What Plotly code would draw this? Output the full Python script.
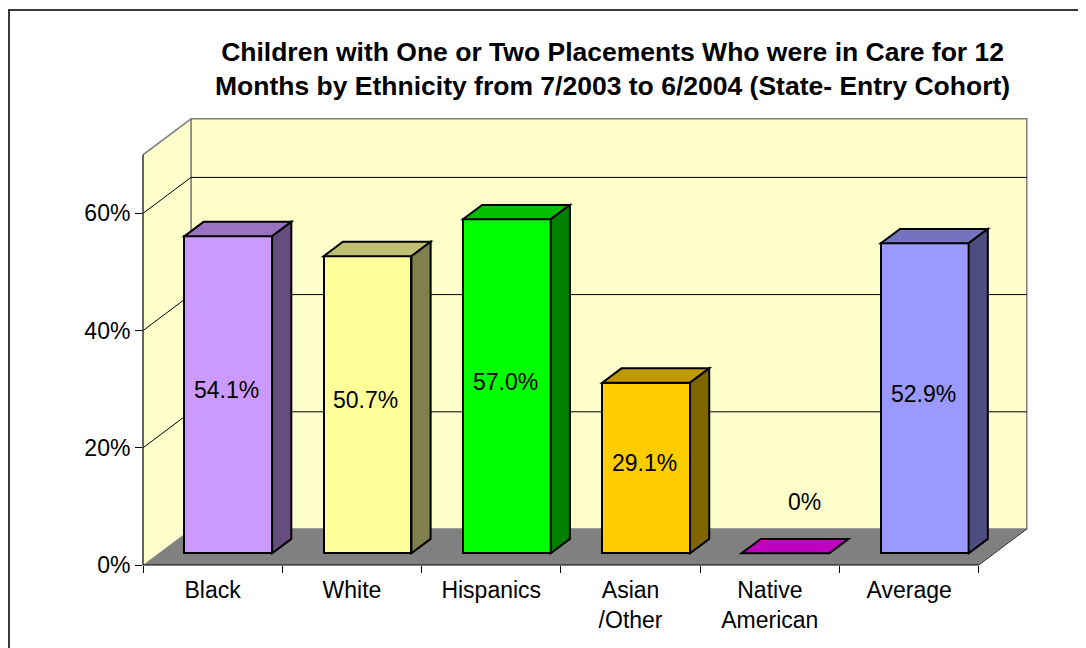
import plotly.graph_objects as go

# ---------------- data ----------------
categories = ["Black", "White", "Hispanics", "Asian /Other", "Native American", "Average"]
tick_labels = ["Black", "White", "Hispanics", "Asian<br>/Other", "Native<br>American", "Average"]
values = [0.541, 0.507, 0.570, 0.291, 0.0, 0.529]
value_labels = ["54.1%", "50.7%", "57.0%", "29.1%", "0%", "52.9%"]
front_colors = ["#CC99FF", "#FFFF99", "#00FF00", "#FFCC00", "#FF00FF", "#9999FF"]
top_colors = ["#9973BF", "#BFBF73", "#00BF00", "#BF9900", "#BF00BF", "#7373BF"]
side_colors = ["#664D80", "#80804D", "#008000", "#806600", "#800080", "#4D4D80"]
y_ticks = [0, 0.2, 0.4, 0.6]
y_max = 0.7
title_text = ("<b>Children with One or Two Placements Who were in Care for 12<br>"
              "Months by Ethnicity from 7/2003 to 6/2004 (State- Entry Cohort)</b>")

# ---------------- geometry / style ----------------
# the page body has an 8px margin, so the figure is drawn 8px smaller and shifted
W, H = 1078, 640
CAT_PX = 139.3        # pixels per category
UNIT_PX = 586.0       # pixels per 100%
ML, MB = 135, 83
PW, PH = 886, 448
MR = W - ML - PW
MT = H - MB - PH
DX = 48 / CAT_PX      # full depth offset (category units)
DY = 36 / UNIT_PX     # full depth offset (value units)
F1, F2 = 0.325, 0.725 # bar front / back depth fractions
BW = 0.63             # bar width
X0 = -0.5
XN = len(categories) - 0.5
x_range = [X0, X0 + PW / CAT_PX]
y_range = [0, PH / UNIT_PX]
WALL = "#FFFFCC"
FLOOR = "#808080"
FONT = "Liberation Sans, Arial, sans-serif"


def px_x(p):
    return (p - ML) / PW


def px_y(p):
    return (MT + PH - p) / PH


fig = go.Figure()

fig.add_trace(go.Bar(
    x=categories, y=values, base=F1 * DY, width=BW, offset=-BW / 2 + F1 * DX,
    marker=dict(color=front_colors, line=dict(color="black", width=2)),
    hoverinfo="skip", showlegend=False,
))

shapes = []
# back wall
shapes.append(dict(type="rect", xref="x", yref="y", layer="below",
                   x0=X0 + DX, x1=XN + DX, y0=DY, y1=y_max + DY,
                   fillcolor=WALL, line=dict(color="#808080", width=1.5)))
# side wall
shapes.append(dict(type="path", xref="x", yref="y", layer="below",
                   path=f"M{X0},0 L{X0+DX},{DY} L{X0+DX},{y_max+DY} L{X0},{y_max} Z",
                   fillcolor=WALL, line=dict(width=0)))
shapes.append(dict(type="line", xref="x", yref="y", layer="below",
                   x0=X0, y0=y_max, x1=X0 + DX, y1=y_max + DY,
                   line=dict(color="#808080", width=1.5)))
shapes.append(dict(type="line", xref="x", yref="y", layer="below",
                   x0=X0 + DX, y0=DY, x1=X0 + DX, y1=y_max + DY,
                   line=dict(color="#808080", width=1.5)))
# gridlines
for v in y_ticks[1:]:
    shapes.append(dict(type="line", xref="x", yref="y", layer="below",
                       x0=X0 + DX, y0=v + DY, x1=XN + DX, y1=v + DY,
                       line=dict(color="black", width=1)))
    shapes.append(dict(type="line", xref="x", yref="y", layer="below",
                       x0=X0, y0=v, x1=X0 + DX, y1=v + DY,
                       line=dict(color="black", width=1)))
# floor
shapes.append(dict(type="path", xref="x", yref="y", layer="below",
                   path=f"M{X0},0 L{XN},0 L{XN+DX},{DY} L{X0+DX},{DY} Z",
                   fillcolor=FLOOR, line=dict(width=0)))
shapes.append(dict(type="line", xref="x", yref="y", layer="below",
                   x0=XN, y0=0, x1=XN + DX, y1=DY,
                   line=dict(color="#333333", width=1)))
shapes.append(dict(type="line", xref="x", yref="paper", layer="above",
                   x0=X0, y0=0, x1=XN, y1=0,
                   line=dict(color="black", width=1.2)))
# front-left axis edge
shapes.append(dict(type="line", xref="paper", yref="y", layer="above",
                   x0=0, y0=0, x1=0, y1=y_max,
                   line=dict(color="black", width=1.2)))

# 3D bar faces
dxd = (F2 - F1) * DX
dyd = (F2 - F1) * DY
for i, v in enumerate(values):
    xl = i - BW / 2 + F1 * DX
    xr = xl + BW
    b = F1 * DY
    t = v + b
    shapes.append(dict(type="path", xref="x", yref="y", layer="above",
                       path=f"M{xl},{t} L{xr},{t} L{xr+dxd},{t+dyd} L{xl+dxd},{t+dyd} Z",
                       fillcolor=top_colors[i], line=dict(color="black", width=2)))
    if v > 0:
        shapes.append(dict(type="path", xref="x", yref="y", layer="above",
                           path=f"M{xr},{b} L{xr},{t} L{xr+dxd},{t+dyd} L{xr+dxd},{b+dyd} Z",
                           fillcolor=side_colors[i], line=dict(color="black", width=2)))

# outer chart border (right and bottom sides fall outside the figure)
shapes.append(dict(type="rect", xref="paper", yref="paper", layer="above",
                   x0=px_x(1), x1=px_x(W + 10), y0=px_y(H + 10), y1=px_y(2),
                   line=dict(color="#3a3a3a", width=2), fillcolor="rgba(0,0,0,0)"))

annotations = []
for i, v in enumerate(values):
    if v > 0:
        ax_, ay_ = i + 0.1, v / 2 + 0.028
    else:
        ax_, ay_ = i + 0.246, 0.107
    annotations.append(dict(x=ax_, y=ay_, xref="x", yref="y", text=value_labels[i],
                            showarrow=False, font=dict(size=23, color="black", family=FONT),
                            xanchor="center", yanchor="middle"))
annotations.append(dict(x=px_x(604), y=px_y(61), xref="paper", yref="paper",
                        text=title_text, showarrow=False, align="center",
                        font=dict(size=26.5, color="black", family=FONT),
                        xanchor="center", yanchor="middle"))

fig.update_layout(
    width=W, height=H,
    margin=dict(l=ML, r=MR, t=MT, b=MB, pad=0),
    paper_bgcolor="white", plot_bgcolor="white",
    font=dict(family=FONT, size=23, color="black"),
    shapes=shapes, annotations=annotations,
    showlegend=False, bargap=0,
    xaxis=dict(type="category", categoryorder="array", categoryarray=categories,
               tickmode="array", tickvals=categories, ticktext=tick_labels,
               tickson="boundaries", ticks="outside", ticklen=7, tickcolor="black",
               tickwidth=1, range=x_range, showgrid=False, zeroline=False,
               showline=False, fixedrange=True, tickfont=dict(size=23),
               ticklabelstandoff=9),
    yaxis=dict(range=y_range, tickvals=y_ticks, tickformat=".0%", ticks="outside",
               ticklen=7, tickcolor="black", tickwidth=1, showgrid=False,
               zeroline=False, showline=False, fixedrange=True, tickfont=dict(size=23)),
)

fig.write_html("out.html")
